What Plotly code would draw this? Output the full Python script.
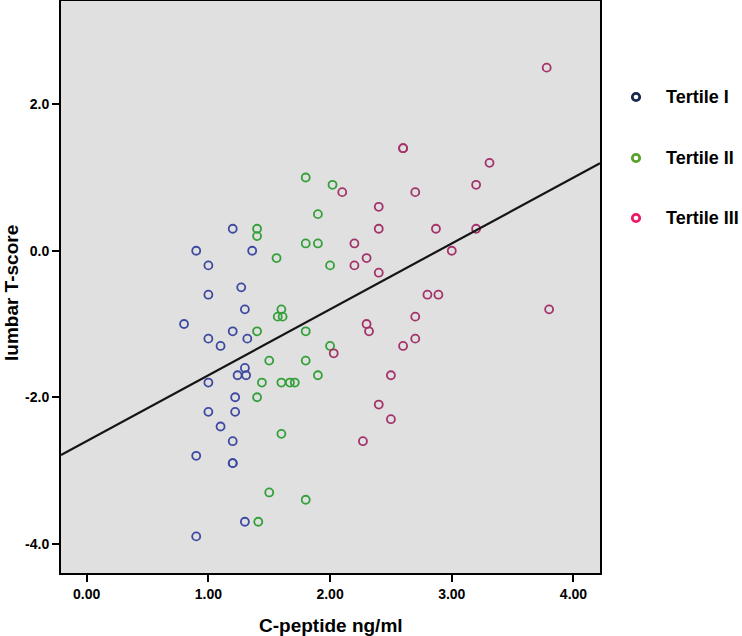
import numpy as np
import plotly.graph_objects as go

# ---- data ----
tertile1_x = [1.2, 0.9, 1.36, 1.0, 1.27, 1.0, 1.3, 0.8, 1.0, 1.2, 1.1, 1.32, 1.3, 1.24, 1.31,
              1.0, 1.22, 1.0, 1.22, 1.1, 1.2, 0.9, 1.2, 1.2, 1.3, 0.9]
tertile1_y = [0.3, 0.0, 0.0, -0.2, -0.5, -0.6, -0.8, -1.0, -1.2, -1.1, -1.3, -1.2, -1.6, -1.7, -1.7,
              -1.8, -2.0, -2.2, -2.2, -2.4, -2.6, -2.8, -2.9, -2.9, -3.7, -3.9]

tertile2_x = [1.4, 1.4, 1.9, 1.8, 1.9, 1.56, 2.0, 1.6, 1.57, 1.61, 1.4, 1.8, 2.0, 1.5, 1.8,
              1.9, 1.44, 1.6, 1.67, 1.71, 1.4, 1.6, 1.5, 1.8, 1.41, 1.8, 2.02]
tertile2_y = [0.3, 0.2, 0.5, 0.1, 0.1, -0.1, -0.2, -0.8, -0.9, -0.9, -1.1, -1.1, -1.3, -1.5, -1.5,
              -1.7, -1.8, -1.8, -1.8, -1.8, -2.0, -2.5, -3.3, -3.4, -3.7, 1.0, 0.9]

tertile3_x = [3.78, 2.6, 2.6, 3.31, 2.1, 2.7, 3.2, 2.4, 2.4, 2.87, 3.2, 2.2, 2.3, 2.2, 2.4,
              3.0, 2.8, 2.89, 3.8, 2.7, 2.3, 2.32, 2.7, 2.6, 2.03, 2.5, 2.4, 2.5, 2.27]
tertile3_y = [2.5, 1.4, 1.4, 1.2, 0.8, 0.8, 0.9, 0.6, 0.3, 0.3, 0.3, 0.1, -0.1, -0.2, -0.3,
              0.0, -0.6, -0.6, -0.8, -0.9, -1.0, -1.1, -1.2, -1.3, -1.4, -1.7, -2.1, -2.3, -2.6]

series_names = ["Tertile I", "Tertile II", "Tertile III"]

fit_intercept = -2.60
fit_slope = 0.90

x_ticks = [0, 1, 2, 3, 4]
x_tick_labels = ["0.00", "1.00", "2.00", "3.00", "4.00"]
y_ticks = [-4, -2, 0, 2]
y_tick_labels = ["-4.0", "-2.0", "0.0", "2.0"]

x_title = "C-peptide ng/ml"
y_title = "lumbar T-score"

x_range = [-0.211, 4.218]
y_range = [-4.40, 3.41]

# ---- styles ----
point_colors = ["#3d4aa0", "#34a03a", "#a3336a"]
legend_colors = ["#17284f", "#58a22a", "#ec1a68"]
FONT = "Liberation Sans, Arial, sans-serif"

fig = go.Figure()

for xs, ys, col, name in zip([tertile1_x, tertile2_x, tertile3_x],
                             [tertile1_y, tertile2_y, tertile3_y],
                             point_colors, series_names):
    fig.add_trace(go.Scatter(
        x=xs, y=ys, mode="markers", name=name, showlegend=False,
        marker=dict(symbol="circle-open", size=8, color=col,
                    line=dict(width=1.8, color=col)),
    ))

fit_x = np.array(x_range)
fit_y = fit_intercept + fit_slope * fit_x
fig.add_trace(go.Scatter(x=fit_x, y=fit_y, mode="lines", showlegend=False,
                         line=dict(color="#151515", width=2.2)))

# ---- layout geometry ----
L, R, T, B = 61, 142, 1, 63
W, H = 742, 636
pw, ph = W - L - R, H - T - B


def px_x(px):
    return (px - L) / pw


def px_y(py):
    return 1 - (py - T) / ph


# ---- legend drawn beside the plot ----
legend_y_px = [97, 158, 218]
circle_x_px = 636
text_x_px = 664
for name, col, py in zip(series_names, legend_colors, legend_y_px):
    fig.add_shape(type="circle", xref="paper", yref="paper",
                  xsizemode="pixel", ysizemode="pixel",
                  xanchor=px_x(circle_x_px), yanchor=px_y(py),
                  x0=-3.7, x1=3.7, y0=-3.7, y1=3.7,
                  line=dict(color=col, width=2.8), fillcolor="rgba(0,0,0,0)")
    fig.add_annotation(text=name, xref="paper", yref="paper",
                       x=px_x(text_x_px), y=px_y(py), xanchor="left", yanchor="middle",
                       showarrow=False,
                       font=dict(family=FONT, size=18, color="black", weight="bold"))

# ---- axis titles ----
title_font = dict(family=FONT, size=19, color="black", weight="bold")
fig.add_annotation(text=x_title, xref="paper", yref="paper",
                   x=px_x(331), y=px_y(625), xanchor="center", yanchor="middle",
                   showarrow=False, font=title_font)
fig.add_annotation(text=y_title, xref="paper", yref="paper", textangle=-90,
                   x=px_x(11), y=px_y(293), xanchor="center", yanchor="middle",
                   showarrow=False, font=title_font)

axis_common = dict(showline=True, mirror=True, linecolor="black", linewidth=2,
                   ticks="outside", ticklen=7, tickwidth=2, tickcolor="black",
                   showgrid=False, zeroline=False, automargin=False,
                   tickfont=dict(family=FONT, size=14, color="black", weight="bold"))

fig.update_layout(
    width=W, height=H,
    margin=dict(l=L, r=R, t=T, b=B, autoexpand=False),
    paper_bgcolor="white", plot_bgcolor="#e0e0e0",
    xaxis=dict(range=x_range, tickvals=x_ticks, ticktext=x_tick_labels, **axis_common),
    yaxis=dict(range=y_range, tickvals=y_ticks, ticktext=y_tick_labels, **axis_common),
)

fig.write_html("out.html",
               config={"displayModeBar": False},
               post_script="document.body.style.margin='0px';"
                           "document.body.style.overflow='hidden';")
